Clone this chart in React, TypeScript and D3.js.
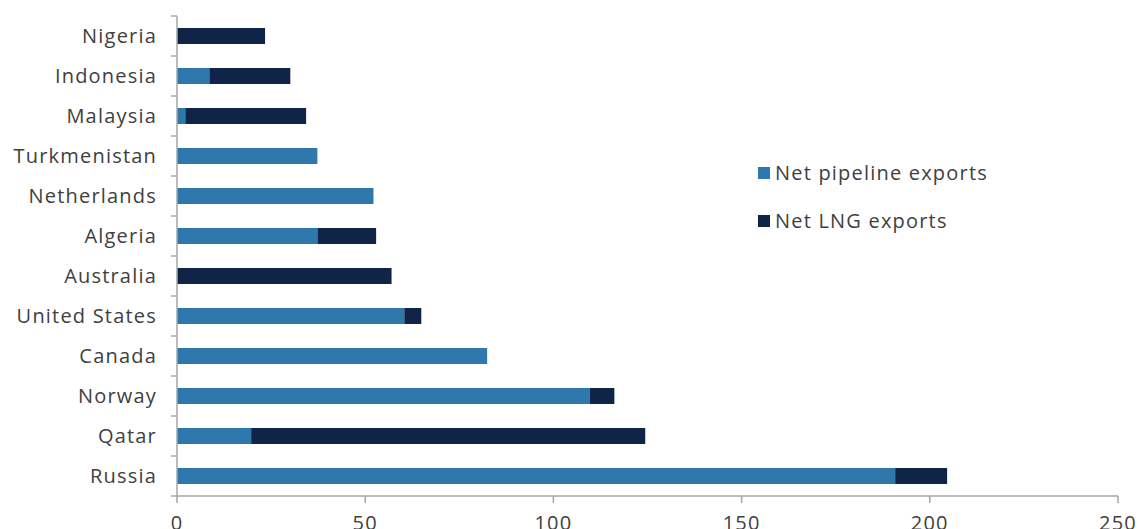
import React, { useEffect } from 'react';
import * as d3 from 'd3';

const countries = ['Nigeria', 'Indonesia', 'Malaysia', 'Turkmenistan', 'Netherlands', 'Algeria', 'Australia', 'United States', 'Canada', 'Norway', 'Qatar', 'Russia'];
const pipeline = [0, 8.6, 2.2, 37.3, 52.2, 37.3, 0, 60.4, 82.4, 109.7, 19.7, 190.8];
const lng = [23.4, 21.5, 32.1, 0, 0, 15.6, 57, 4.5, 0, 6.5, 104.7, 13.8];
const xTicks = [0, 50, 100, 150, 200, 250];
const seriesNames = ['Net pipeline exports', 'Net LNG exports'];
const seriesColors = ['#2e78ab', '#0f2446'];

const W = 1141, H = 529;
const margin = { top: 16, left: 177, right: 23, bottom: 33 };
const FONT = '"Open Sans", sans-serif';
const LS = 1.2;

const App: React.FC = () => {
  useEffect(() => { document.body.style.margin = '0'; }, []);

  const x = d3.scaleLinear().domain([0, 250]).range([margin.left, W - margin.right]);
  const y = d3.scaleBand<string>().domain(countries).range([margin.top, H - margin.bottom]).paddingInner(0.6).paddingOuter(0.3);
  const step = y.step();
  const bottom = H - margin.bottom;
  const axisColor = '#a6a6a6';
  const boundaries = countries.map((_, i) => margin.top + i * step).concat([bottom]);

  return (
    <svg width={W} height={H} style={{ display: 'block', fontFamily: FONT }}>
      {countries.map((c, i) => (
        <g key={c}>
          <rect x={x(0)} y={y(c)!} width={x(pipeline[i]) - x(0)} height={y.bandwidth()} fill={seriesColors[0]} />
          <rect x={x(pipeline[i])} y={y(c)!} width={x(pipeline[i] + lng[i]) - x(pipeline[i])} height={y.bandwidth()} fill={seriesColors[1]} />
          <text x={x(0) - 20} y={y(c)! + y.bandwidth() / 2} dy="0.35em" textAnchor="end" fontSize={20} letterSpacing={LS} fill="#404040">{c}</text>
        </g>
      ))}
      <line x1={x(0)} x2={x(0)} y1={margin.top} y2={bottom} stroke={axisColor} strokeWidth={1.5} />
      {boundaries.map((b, i) => (
        <line key={i} x1={x(0) - 6} x2={x(0)} y1={b} y2={b} stroke={axisColor} strokeWidth={1.5} />
      ))}
      <line x1={x(0)} x2={x(250)} y1={bottom} y2={bottom} stroke={axisColor} strokeWidth={1.5} />
      {xTicks.map(t => (
        <g key={t}>
          <line x1={x(t)} x2={x(t)} y1={bottom} y2={bottom + 7} stroke={axisColor} strokeWidth={1.5} />
          <text x={x(t)} y={bottom + 27} dy="0.35em" textAnchor="middle" fontSize={20} letterSpacing={LS} fill="#404040">{t}</text>
        </g>
      ))}
      {seriesNames.map((s, i) => (
        <g key={s} transform={`translate(758, ${173 + i * 48})`}>
          <rect x={0} y={-6} width={12} height={12} fill={seriesColors[i]} />
          <text x={17} y={0} dy="0.35em" fontSize={20} letterSpacing={LS} fill="#404040">{s}</text>
        </g>
      ))}
    </svg>
  );
};

export default App;
